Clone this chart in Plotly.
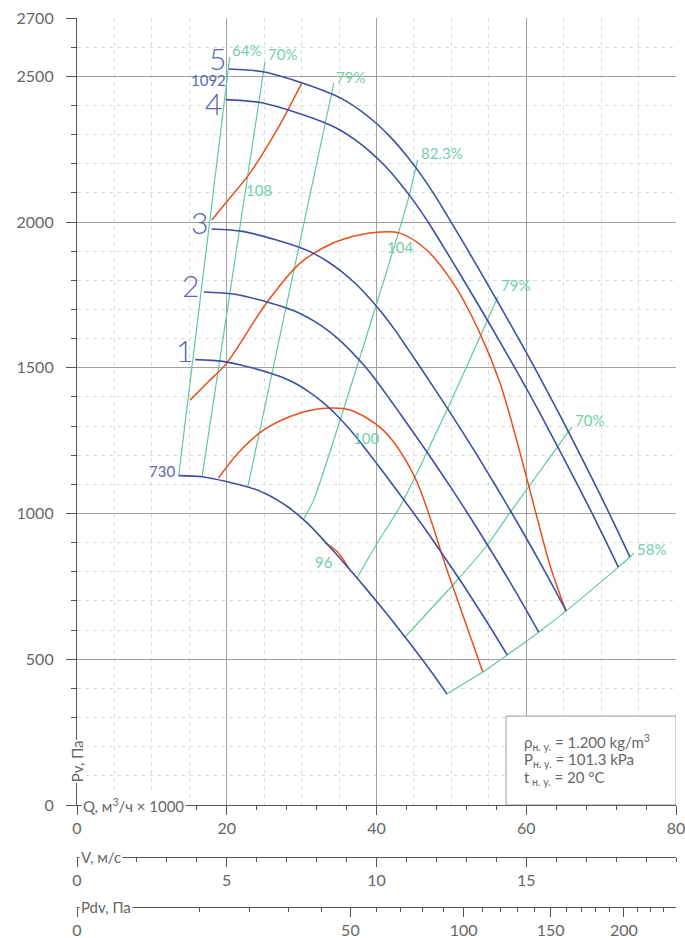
import numpy as np
import plotly.graph_objects as go

# ---------------- data (Q in 1000 m3/h, P in Pa) ----------------
# fan characteristic curves (bottom = 730 rpm ... curve 5 = 1092 rpm)
q_730 = [13.58, 16.73, 20.07, 23.08, 24.08, 25.42, 26.76, 28.10, 29.44, 30.77, 32.11, 33.45, 34.79,
         37.46, 40.14, 42.15, 44.15, 46.83, 49.41]
p_730 = [1130, 1126, 1109, 1089, 1081, 1065, 1046, 1024, 997, 967, 932, 894, 856,
         777, 695, 631, 565, 474, 381]

q_s1 = [15.79, 19.45, 23.34, 26.84, 28.01, 29.56, 31.12, 32.68, 34.23, 35.79, 37.34, 38.90, 40.46,
        43.57, 46.68, 49.01, 51.35, 54.46, 57.46]
p_s1 = [1528, 1522, 1500, 1473, 1461, 1441, 1415, 1385, 1349, 1307, 1261, 1209, 1157,
        1050, 940, 853, 764, 640, 515]

q_s2 = [16.95, 20.88, 25.05, 28.81, 30.06, 31.73, 33.40, 35.07, 36.74, 38.41, 40.08, 41.75, 43.42,
        46.76, 50.10, 52.61, 55.11, 58.45, 61.66]
p_s2 = [1760, 1753, 1728, 1697, 1683, 1659, 1630, 1595, 1553, 1506, 1452, 1393, 1333,
        1210, 1083, 983, 880, 738, 593]

q_s3 = [17.96, 22.12, 26.54, 30.52, 31.85, 33.61, 35.38, 37.15, 38.92, 40.69, 42.46, 44.23, 46.00,
        49.54, 53.08, 55.73, 58.38, 61.92, 65.33]
p_s3 = [1976, 1968, 1939, 1905, 1889, 1862, 1829, 1790, 1743, 1690, 1630, 1563, 1496,
        1358, 1215, 1103, 988, 828, 666]

q_s4 = [19.87, 24.48, 29.37, 33.78, 35.24, 37.20, 39.16, 41.12, 43.08, 45.03, 46.99, 48.95, 50.91,
        54.82, 58.74, 61.68, 64.61, 68.53, 72.30]
p_s4 = [2420, 2410, 2375, 2333, 2314, 2281, 2241, 2193, 2135, 2070, 1996, 1915, 1832,
        1663, 1488, 1351, 1209, 1014, 816]

q_s5 = [20.3, 25.0, 30.0, 34.5, 36.0, 38.0, 40.0, 42.0, 44.0, 46.0, 48.0, 50.0, 52.0,
        56.0, 60.0, 63.0, 66.0, 70.0, 73.85]
p_s5 = [2525, 2515, 2478, 2434, 2414, 2380, 2338, 2288, 2228, 2160, 2083, 1998, 1912,
        1735, 1553, 1410, 1262, 1058, 851]

# orange (noise) curves
q_o108 = [18.0, 20.5, 23.1, 26.7, 30.0]
p_o108 = [2007, 2085, 2168, 2316, 2476]

q_o104 = [15.1, 17.5, 20.0, 25.3, 29.8, 34.2, 37.5, 40.5, 43.1, 46.7, 50.5, 53.8, 56.5, 59.0, 61.2,
          63.2, 65.3]
p_o104 = [1389, 1451, 1516, 1722, 1859, 1928, 1955, 1966, 1962, 1904, 1780, 1619, 1448, 1225, 1010,
          820, 666]

q_o100 = [18.9, 21.5, 24.9, 29.8, 33.8, 36.5, 40.9, 45.1, 49.5, 54.2]
p_o100 = [1122, 1207, 1286, 1345, 1362, 1355, 1286, 1125, 800, 456]

q_o96 = [33.1, 34.8, 36.3]
p_o96 = [900, 868, 812]

# green (efficiency) lines
q_g64 = [13.58, 20.4]
p_g64 = [1130, 2566]
q_g70a = [16.7, 25.1]
p_g70a = [1126, 2549]
q_g79a = [22.8, 34.3]
p_g79a = [1090, 2477]
q_g823 = [30.2, 31.6, 39.9, 44.2, 45.5]
p_g823 = [978, 1046, 1710, 2075, 2213]
q_g79b = [37.4, 40.1, 43.1, 49.4, 56.2]
p_g79b = [779, 899, 1022, 1355, 1743]
q_g70b = [43.8, 50.8, 54.8, 57.8, 66.1]
p_g70b = [576, 772, 892, 1002, 1297]
q_g58 = [49.41, 54.2, 57.46, 61.66, 65.33, 72.3, 73.85, 74.4]
p_g58 = [381, 456, 515, 593, 666, 816, 851, 865]

# labels
speed_labels = ["5", "4", "3", "2", "1"]
speed_lq = [18.8, 18.2, 16.3, 15.1, 14.4]
speed_lp = [2562, 2408, 2000, 1784, 1561]

rpm_labels = ["1092", "730"]
rpm_lq = [17.6, 11.4]
rpm_lp = [2486, 1146]

green_labels = ["64%", "70%", "79%", "82.3%", "108", "104", "79%", "100", "70%", "96", "58%"]
green_lq = [22.6, 27.4, 36.5, 48.7, 24.3, 43.1, 58.6, 38.6, 68.4, 33.0, 76.7]
green_lp = [2590, 2576, 2497, 2237, 2110, 1914, 1784, 1259, 1321, 834, 878]

y_ticks = [0, 500, 1000, 1500, 2000, 2500, 2700]
q_ticks = [0, 20, 40, 60, 80]
v_ticks = [0, 5, 10, 15]
pdv_major = [0, 50, 100, 150, 200]
pdv_minor = [10, 20, 30, 40, 60, 70, 80, 90, 110, 120, 130, 140, 160, 170, 180, 190, 210, 220, 230]

# ---------------- styling ----------------
BLUE = "#3f4fa2"
BLUE_TXT = "#5a66b2"
ORANGE = "#e8501c"
GREEN = "#5fc9a2"
GREEN_TXT = "#73cfaa"
GRID = "#a0a0a0"
MINOR = "#dcdcdc"
AX = "#555555"
TXT = "#666666"
FONT = "Lato"


def pdv_to_q(pdv):
    # Pdv = rho*V^2/2, rho = 1.2 ; V = Q/4  (Q in 1000 m3/h)
    return [4.0 * float(np.sqrt(v / 0.6)) for v in pdv]


fig = go.Figure()


def add_line(q, p, color, width=1.5, smooth=0.9):
    fig.add_trace(go.Scatter(x=q, y=p, mode="lines", xaxis="x", yaxis="y",
                             line=dict(color=color, width=width, shape="spline", smoothing=smooth),
                             hoverinfo="skip", showlegend=False))


for q, p in [(q_g64, p_g64), (q_g70a, p_g70a), (q_g79a, p_g79a), (q_g823, p_g823),
             (q_g79b, p_g79b), (q_g70b, p_g70b), (q_g58, p_g58)]:
    add_line(q, p, GREEN, 1.2, 0.6)

for q, p in [(q_o108, p_o108), (q_o104, p_o104), (q_o100, p_o100), (q_o96, p_o96)]:
    add_line(q, p, ORANGE, 1.5, 0.9)

for q, p in [(q_730, p_730), (q_s1, p_s1), (q_s2, p_s2), (q_s3, p_s3), (q_s4, p_s4), (q_s5, p_s5)]:
    add_line(q, p, BLUE, 1.6, 0.8)

# dummy traces for the extra axes
fig.add_trace(go.Scatter(x=[None], y=[None], xaxis="x2", yaxis="y", showlegend=False, hoverinfo="skip"))
fig.add_trace(go.Scatter(x=[None], y=[None], xaxis="x3", yaxis="y", showlegend=False, hoverinfo="skip"))
fig.add_trace(go.Scatter(x=[None], y=[None], xaxis="x4", yaxis="y", showlegend=False, hoverinfo="skip"))

# ---------------- layout ----------------
H = 938
top_m = 18
plot_h = H - top_m
y_dom0 = (H - 805) / plot_h
pos_v = (H - 857) / plot_h
pos_pdv = (H - 907) / plot_h

TF = dict(size=16, color=TXT, family=FONT)

fig.update_layout(
    width=685, height=H,
    margin=dict(l=77, r=9, t=top_m, b=0, autoexpand=False),
    plot_bgcolor="rgba(0,0,0,0)", paper_bgcolor="white",
    font=dict(family=FONT, size=14, color=TXT),
    showlegend=False,
    yaxis=dict(domain=[y_dom0, 1], range=[0, 2700], tickmode="array", tickvals=y_ticks,
               ticks="outside", ticklen=10, tickcolor=AX, showline=True, linecolor=AX, linewidth=1.2,
               showgrid=True, gridcolor=GRID, gridwidth=1, zeroline=False, automargin=False,
               tickfont=TF, ticklabelstandoff=9, ticklabeloverflow="allow",
               minor=dict(dtick=100, tick0=0, showgrid=True, gridcolor=MINOR, griddash="4px,4px",
                          ticks="outside", ticklen=5, tickcolor=AX)),
    xaxis=dict(domain=[0, 1], range=[0, 80], anchor="y", tickmode="array", tickvals=q_ticks,
               ticks="outside", ticklen=9, tickcolor=AX, showline=True, linecolor=AX, linewidth=1.2,
               showgrid=True, gridcolor=GRID, gridwidth=1, zeroline=False, automargin=False,
               tickfont=TF, ticklabeloverflow="allow",
               minor=dict(dtick=5, tick0=0, showgrid=True, gridcolor=MINOR, griddash="4px,4px", ticks="")),
    xaxis4=dict(domain=[0, 1], range=[0, 80], anchor="y", overlaying="x", side="bottom",
                tickmode="linear", tick0=0, dtick=4, ticks="outside", ticklen=4, tickcolor=AX,
                showgrid=False, showline=False, zeroline=False, showticklabels=False, automargin=False),
    xaxis2=dict(domain=[0, 1], range=[0, 20], anchor="free", overlaying="x", position=pos_v, side="bottom",
                tickmode="array", tickvals=v_ticks, ticks="outside", ticklen=9, tickcolor=AX,
                showline=True, linecolor=AX, linewidth=1.2, showgrid=False, zeroline=False,
                tickfont=TF, automargin=False, ticklabeloverflow="allow",
                minor=dict(dtick=1, tick0=0, ticks="outside", ticklen=4, tickcolor=AX, showgrid=False)),
    xaxis3=dict(domain=[0, 1], range=[0, 80], anchor="free", overlaying="x", position=pos_pdv, side="bottom",
                tickmode="array", tickvals=pdv_to_q(pdv_major), ticktext=[str(v) for v in pdv_major],
                ticks="outside", ticklen=9, tickcolor=AX,
                showline=True, linecolor=AX, linewidth=1.2, showgrid=False, zeroline=False,
                tickfont=TF, automargin=False, ticklabeloverflow="allow",
                minor=dict(tickmode="array", tickvals=pdv_to_q(pdv_minor), ticks="outside", ticklen=4,
                           tickcolor=AX, showgrid=False)),
)

# info box
fig.add_shape(type="rect", xref="x", yref="y", x0=57.3, x1=80, y0=0, y1=305,
              line=dict(color="#9b9b9b", width=1), fillcolor="white", layer="above")

ann = []
for t, q, p in zip(speed_labels, speed_lq, speed_lp):
    ann.append(dict(text=t, x=q, y=p, xref="x", yref="y", showarrow=False,
                    font=dict(size=30, color=BLUE_TXT, family=FONT, weight=300)))
for t, q, p in zip(rpm_labels, rpm_lq, rpm_lp):
    ann.append(dict(text=t, x=q, y=p, xref="x", yref="y", showarrow=False,
                    font=dict(size=15, color=BLUE_TXT, family=FONT)))
for t, q, p in zip(green_labels, green_lq, green_lp):
    ann.append(dict(text=t, x=q, y=p, xref="x", yref="y", showarrow=False,
                    font=dict(size=15, color=GREEN_TXT, family=FONT)))

box_lines = ["ρ<sub>н. у.</sub> = 1.200 kg/m<sup>3</sup>",
             "P<sub>н. у.</sub> = 101.3 kPa",
             "t<sub> н. у.</sub> = 20 °C"]
for i, t in enumerate(box_lines):
    ann.append(dict(text=t, x=59.4, y=216 - i * 61, xref="x", yref="y", xanchor="left",
                    showarrow=False, font=dict(size=15, color=TXT)))

# axis titles with white background over the axis lines
ann.append(dict(text="Pv, Па", x=0, y=150, xref="x", yref="y", textangle=-90, showarrow=False,
                xanchor="center", yanchor="middle",
                bgcolor="white", font=dict(size=15, color=TXT), borderpad=0))
ann.append(dict(text="Q, м<sup>3</sup>/ч × 1000", x=0.5, y=0, xref="x", yref="y", xanchor="left",
                yanchor="middle", showarrow=False, bgcolor="white", font=dict(size=15, color=TXT), borderpad=1))
ann.append(dict(text="V, м/с", x=0.3, y=pos_v, xref="x", yref="paper", xanchor="left", yanchor="middle",
                showarrow=False, bgcolor="white", font=dict(size=15, color=TXT), borderpad=1))
ann.append(dict(text="Pdv, Па", x=0.3, y=pos_pdv, xref="x", yref="paper", xanchor="left", yanchor="middle",
                showarrow=False, bgcolor="white", font=dict(size=15, color=TXT), borderpad=1))

fig.update_layout(annotations=ann)

fig.write_html("out.html", config={"displayModeBar": False},
               post_script="document.body.style.margin='0';")
